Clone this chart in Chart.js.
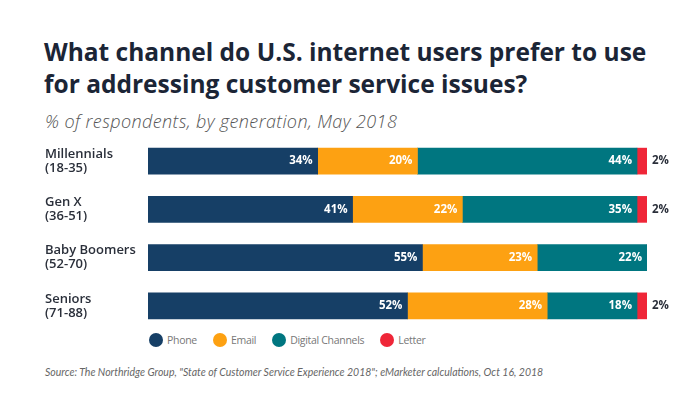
<!DOCTYPE html>
<html>
<head>
<meta charset="utf-8">
<script src="https://cdn.jsdelivr.net/npm/chart.js@4"></script>
<style>
  body { margin: 0; width: 700px; height: 409px; background: #fff; position: relative; overflow: hidden; font-family: "Open Sans", Lato, sans-serif; }
  h1 { position: absolute; left: 44px; top: 36px; margin: 0; font-size: 24.5px; line-height: 32px; font-weight: 700; color: #1b2536; letter-spacing: 0; }
  .sub { position: absolute; left: 45px; top: 109px; font-size: 18px; font-style: italic; color: #555; font-weight: 300; letter-spacing: 0.4px; }
  .wrap { position: absolute; left: 45px; top: 137px; width: 655px; height: 193px; }
  .legend { position: absolute; left: 149px; top: 333px; display: flex; font-size: 10.5px; color: #777; letter-spacing: -0.3px; }
  .legend span { display: flex; align-items: center; margin-right: 16px; }
  .legend i { width: 14px; height: 14px; border-radius: 50%; display: inline-block; margin-right: 4px; }
  .src { position: absolute; left: 45px; top: 366px; font-family: Lato, sans-serif; font-size: 10.5px; font-style: italic; color: #666; }
</style>
</head>
<body>
<h1>What channel do U.S. internet users prefer to use<br>for addressing customer service issues?</h1>
<div class="sub">% of respondents, by generation, May 2018</div>
<div class="wrap"><canvas id="myChart"></canvas></div>
<div class="legend" id="legend"></div>
<div class="src">Source: The Northridge Group, "State of Customer Service Experience 2018"; eMarketer calculations, Oct 16, 2018</div>
<script>
const categories = [['Millennials', '(18-35)'], ['Gen X', '(36-51)'], ['Baby Boomers', '(52-70)'], ['Seniors', '(71-88)']];
const seriesNames = ['Phone', 'Email', 'Digital Channels', 'Letter'];
const phone = [34, 41, 55, 52];
const email = [20, 22, 23, 28];
const digital = [44, 35, 22, 18];
const letter = [2, 2, 0, 2];
const colors = ['#163f66', '#fda112', '#007680', '#ef2638'];

const allSeries = [phone, email, digital, letter];

document.getElementById('legend').innerHTML = seriesNames
    .map((n, i) => `<span><i style="background:${colors[i]}"></i>${n}</span>`).join('');

// value labels + category names drawn by hand
const labelPlugin = {
    id: 'labels',
    afterDatasetsDraw(chart) {
        const ctx = chart.ctx;
        ctx.save();
        ctx.textBaseline = 'middle';

        // category labels, left aligned at the canvas edge
        const yScale = chart.scales.y;
        ctx.font = '600 13px "Open Sans", sans-serif';
        ctx.fillStyle = '#2a2f3a';
        ctx.textAlign = 'left';
        chart.data.labels.forEach((lines, i) => {
            const y = yScale.getPixelForValue(i);
            ctx.fillText(lines[0], 0, y - 7);
            ctx.fillText(lines[1], 0, y + 7);
        });

        ctx.font = 'bold 11.5px "Open Sans", sans-serif';
        chart.data.datasets.forEach((ds, di) => {
            chart.getDatasetMeta(di).data.forEach((bar, i) => {
                const v = ds.data[i];
                if (!v) return;
                if (di === 3) {
                    ctx.fillStyle = '#2a2f3a';
                    ctx.textAlign = 'left';
                    ctx.fillText(v + '%', bar.x + 5, bar.y);
                } else {
                    ctx.fillStyle = '#fff';
                    ctx.textAlign = 'right';
                    ctx.fillText(v + '%', bar.x - 5, bar.y);
                }
            });
        });
        ctx.restore();
    }
};

new Chart(document.getElementById('myChart').getContext('2d'), {
    type: 'bar',
    data: {
        labels: categories,
        datasets: allSeries.map((d, i) => ({
            label: seriesNames[i],
            data: d,
            backgroundColor: colors[i],
            barThickness: 26,
            borderWidth: 0
        }))
    },
    options: {
        indexAxis: 'y',
        responsive: true,
        maintainAspectRatio: false,
        animation: false,
        layout: { padding: { right: 53, top: 0, bottom: 0, left: 0 } },
        plugins: { legend: { display: false }, tooltip: { enabled: false } },
        scales: {
            x: { stacked: true, min: 0, max: 100, display: false },
            y: {
                stacked: true,
                grid: { display: false },
                border: { display: false },
                ticks: { display: false },
                afterFit(scale) { scale.width = 103; }
            }
        }
    },
    plugins: [labelPlugin]
});
</script>
</body>
</html>
